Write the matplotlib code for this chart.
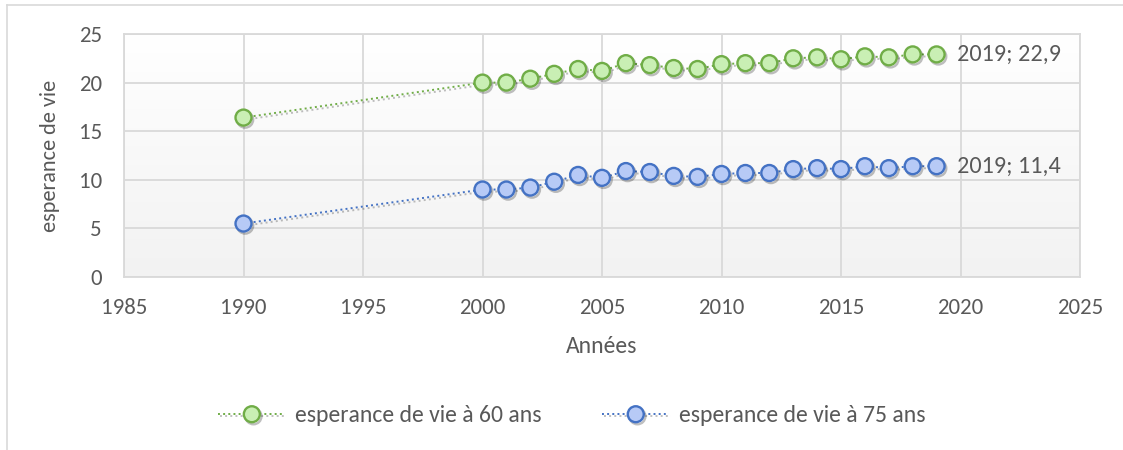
import matplotlib
matplotlib.use("Agg")
import matplotlib.pyplot as plt
import matplotlib.patheffects as pe
from matplotlib.lines import Line2D
from matplotlib.colors import LinearSegmentedColormap
import numpy as np

plt.rcParams['font.family'] = ['Carlito', 'DejaVu Sans']

years = [1990, 2000, 2001, 2002, 2003, 2004, 2005, 2006, 2007, 2008, 2009,
         2010, 2011, 2012, 2013, 2014, 2015, 2016, 2017, 2018, 2019]
esp60 = [16.4, 20.0, 20.0, 20.4, 20.9, 21.4, 21.2, 22.0, 21.8, 21.5, 21.4,
         21.9, 22.0, 22.0, 22.5, 22.6, 22.4, 22.7, 22.6, 22.9, 22.9]
esp75 = [5.5, 9.0, 9.0, 9.2, 9.8, 10.5, 10.2, 10.9, 10.8, 10.4, 10.3,
         10.6, 10.7, 10.7, 11.1, 11.2, 11.1, 11.4, 11.2, 11.4, 11.4]
series_names = ["esperance de vie à 60 ans", "esperance de vie à 75 ans"]
xticks = [1985, 1990, 1995, 2000, 2005, 2010, 2015, 2020, 2025]
yticks = [0, 5, 10, 15, 20, 25]

TXT = '#595959'
GRID = '#d9d9d9'
styles = [dict(edge='#70ad47', face='#c9efb4'),
          dict(edge='#4472c4', face='#b7caf6')]

W, H = 1123, 450
fig = plt.figure(figsize=(W / 100, H / 100), dpi=100)
fig.patch.set_facecolor('white')

# outer chart border (top and left visible)
fig.add_artist(Line2D([7 / W, 1.0], [1 - 5 / H, 1 - 5 / H], color=GRID, lw=1.2))
fig.add_artist(Line2D([7 / W, 7 / W], [0, 1 - 5 / H], color=GRID, lw=1.2))

left, right, top, bottom = 124 / W, 1080 / W, 1 - 34 / H, 1 - 277 / H
ax = fig.add_axes([left, bottom, right - left, top - bottom])
ax.set_xlim(xticks[0], xticks[-1])
ax.set_ylim(yticks[0], yticks[-1])

# gradient background
grad = np.linspace(0, 1, 256).reshape(-1, 1)
cmap = LinearSegmentedColormap.from_list('bg', ['#f2f2f2', '#ffffff'])
ax.imshow(grad, aspect='auto', cmap=cmap, origin='lower',
          extent=[xticks[0], xticks[-1], yticks[0], yticks[-1]], zorder=0)

ax.set_xticks(xticks)
ax.set_yticks(yticks)
ax.grid(True, color=GRID, lw=1.3, zorder=1)
ax.set_axisbelow(True)
for s in ax.spines.values():
    s.set_color(GRID)
    s.set_linewidth(1.3)
ax.tick_params(length=0, labelsize=16.5, colors=TXT)
ax.tick_params(axis='x', pad=15)
ax.tick_params(axis='y', pad=16)
ax.set_xlabel("Années", fontsize=17, color=TXT, labelpad=13)
ax.set_ylabel("esperance de vie", fontsize=16, color=TXT, labelpad=13)

shadow = [pe.SimpleLineShadow(offset=(1.2, -1.5), shadow_color='black', alpha=0.25),
          pe.Normal()]
handles = []
for vals, name, st in zip([esp60, esp75], series_names, styles):
    ln, = ax.plot(years, vals, linestyle=':', lw=1.4, color=st['edge'],
                  marker='o', markersize=11.5, markerfacecolor=st['face'],
                  markeredgecolor=st['edge'], markeredgewidth=1.7,
                  zorder=3, path_effects=shadow, label=name)
    handles.append(ln)
    ax.annotate(f"{years[-1]}; {vals[-1]}".replace('.', ','),
                xy=(years[-1], vals[-1]), xytext=(15, 0),
                textcoords='offset points', ha='left', va='center',
                fontsize=17.5, color=TXT, zorder=4)

fig.legend(handles=handles, loc='center', ncol=2, frameon=False,
           bbox_to_anchor=(572 / W, 1 - 416 / H), fontsize=17,
           labelcolor=TXT, handlelength=2.85, handletextpad=0.42,
           columnspacing=2.55, borderpad=0.2)

fig.savefig('out.png', dpi=100)
